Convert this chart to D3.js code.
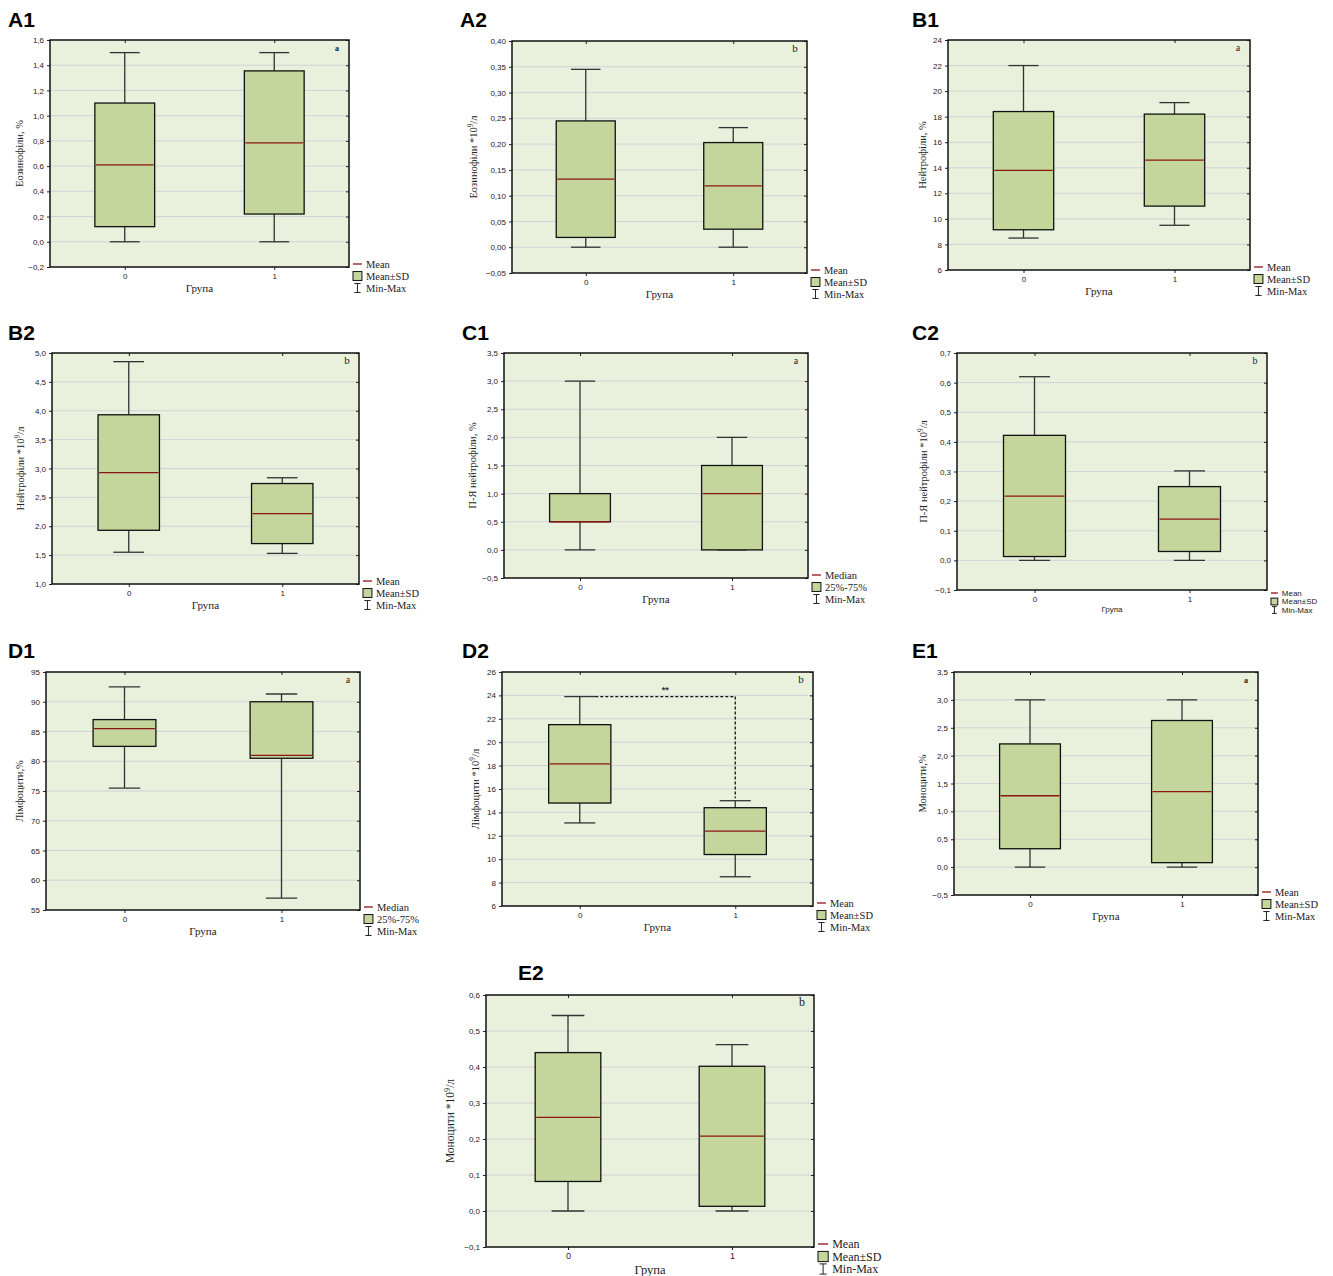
<!DOCTYPE html>
<html>
<head>
<meta charset="utf-8">
<script src="https://cdnjs.cloudflare.com/ajax/libs/d3/7.8.5/d3.min.js"></script>
<style>
  body { margin: 0; background: #fff; }
</style>
</head>
<body>
<svg id="chart" width="1333" height="1276"></svg>
<script>
// ---- data ----
const panelNames = ["A1", "A2", "B1", "B2", "C1", "C2", "D1", "D2", "E1", "E2"];
const groups = ["0", "1"];
const cornerMarks = ["a", "b", "a", "b", "a", "b", "a", "b", "a", "b"];
const yTitles = [
  "Еозинофіли, %", "Еозинофіли *10^9^/л",
  "Нейтрофіли, %", "Нейтрофіли *10^9^/л",
  "П-Я нейтрофіли, %", "П-Я нейтрофіли *10^9^/л",
  "Лімфоцити,%", "Лімфоцити *10^9^/л",
  "Моноцити,%", "Моноцити *10^9^/л"
];
const xTitle = "Група";
const statKinds = ["mean", "mean", "mean", "mean", "median", "mean", "median", "mean", "mean", "mean"];
const yDomains = [[-0.2, 1.6], [-0.05, 0.40], [6, 24], [1, 5], [-0.5, 3.5], [-0.1, 0.7], [55, 95], [6, 26], [-0.5, 3.5], [-0.1, 0.6]];
const yTickSteps = [0.2, 0.05, 2, 0.5, 0.5, 0.1, 5, 2, 0.5, 0.1];
const yTickDecimals = [1, 2, 0, 1, 1, 1, 0, 0, 1, 1];
// [min, lower box, centre line, upper box, max]
const group0Stats = [
  [0, 0.12, 0.61, 1.10, 1.5],
  [0, 0.019, 0.132, 0.245, 0.345],
  [8.5, 9.15, 13.8, 18.4, 22],
  [1.55, 1.93, 2.93, 3.93, 4.85],
  [0, 0.5, 0.5, 1.0, 3.0],
  [0, 0.013, 0.217, 0.422, 0.62],
  [75.5, 82.5, 85.5, 87, 92.5],
  [13.1, 14.8, 18.15, 21.5, 23.9],
  [0, 0.33, 1.28, 2.21, 3.0],
  [0, 0.082, 0.26, 0.44, 0.543]
];
const group1Stats = [
  [0, 0.22, 0.785, 1.355, 1.5],
  [0, 0.035, 0.119, 0.203, 0.232],
  [9.5, 11.0, 14.6, 18.2, 19.1],
  [1.53, 1.70, 2.22, 2.74, 2.84],
  [0, 0, 1.0, 1.5, 2.0],
  [0, 0.03, 0.139, 0.249, 0.302],
  [57, 80.5, 81, 90, 91.3],
  [8.5, 10.4, 12.4, 14.4, 15.0],
  [0, 0.08, 1.355, 2.63, 3.0],
  [0, 0.013, 0.208, 0.402, 0.462]
];
const legendTexts = {
  mean: ["Mean", "Mean±SD", "Min-Max"],
  median: ["Median", "25%-75%", "Min-Max"]
};
// significance bracket in D2
const sigPanel = "D2";
const sigStars = "**";
const sigTop = 23.9;
const sigBottom = 15.2;

// ---- layout (pixels) ----
const layout = [
  { rect: [50, 40, 349, 267], title: [8, 27], ylab: 31, corner: 8 },
  { rect: [512, 41, 807, 273], title: [460, 27], ylab: 39, corner: 11 },
  { rect: [948, 40, 1250, 270], title: [912, 27], ylab: 26, corner: 10 },
  { rect: [52, 353, 359, 584], title: [8, 340], ylab: 32, corner: 11 },
  { rect: [504, 353, 808, 578], title: [462, 340], ylab: 32, corner: 10 },
  { rect: [957, 353, 1267, 590], title: [912, 340], ylab: 34, corner: 10, small: true },
  { rect: [46, 672, 360, 910], title: [8, 658], ylab: 27, corner: 10 },
  { rect: [502, 672, 813, 906], title: [462, 658], ylab: 27, corner: 11 },
  { rect: [954, 672, 1258, 895], title: [912, 658], ylab: 32, corner: 8 },
  { rect: [486, 995, 814, 1247], title: [518, 980], ylab: 36, corner: 12, big: true }
];

const bgColor = "#e9f0dc";
const boxColor = "#c5d69d";
const lineColor = "#8b1414";
const gridColor = "#d3d3da";
const serif = "'Liberation Serif', 'Times New Roman', serif";
const sans = "'Liberation Sans', Arial, sans-serif";

const svg = d3.select("#chart");

panelNames.forEach((name, i) => {
  const L = layout[i];
  const [l, t, r, b] = L.rect;
  const w = r - l;
  const g = svg.append("g");

  const y = d3.scaleLinear().domain(yDomains[i]).range([b, t]);
  const x = d3.scalePoint().domain(groups).range([l, r]).padding(0.5);
  const step = yTickSteps[i];
  const ticks = d3.range(yDomains[i][0], yDomains[i][1] + step / 2, step);
  const fmt = v => d3.format("." + yTickDecimals[i] + "f")(Math.abs(v) < 1e-9 ? 0 : v).replace(".", ",");

  // panel title
  g.append("text").attr("x", L.title[0]).attr("y", L.title[1])
    .attr("font-family", sans).attr("font-weight", "bold").attr("font-size", 21)
    .text(name);

  // plot background
  g.append("rect").attr("x", l).attr("y", t).attr("width", w).attr("height", b - t)
    .attr("fill", bgColor);

  // grid
  g.selectAll(".grid").data(ticks.slice(1, -1)).join("line")
    .attr("x1", l).attr("x2", r)
    .attr("y1", d => y(d)).attr("y2", d => y(d))
    .attr("stroke", gridColor).attr("stroke-width", 1);

  // y axis left (labels) and inner right ticks
  const axL = g.append("g").attr("transform", `translate(${l},0)`)
    .call(d3.axisLeft(y).tickValues(ticks).tickFormat(fmt).tickSize(3).tickPadding(3));
  axL.select(".domain").remove();
  axL.selectAll("text").attr("font-family", sans).attr("font-size", 8).attr("fill", "#222");
  axL.selectAll("line").attr("stroke", "#222");
  const axR = g.append("g").attr("transform", `translate(${r},0)`)
    .call(d3.axisLeft(y).tickValues(ticks).tickFormat("").tickSize(3));
  axR.select(".domain").remove();
  axR.selectAll("line").attr("stroke", "#222");

  // x axis
  const axB = g.append("g").attr("transform", `translate(0,${b})`)
    .call(d3.axisBottom(x).tickSize(3).tickPadding(3));
  axB.select(".domain").remove();
  axB.selectAll("text").attr("font-family", sans).attr("font-size", L.big ? 9 : 8).attr("fill", "#222");
  axB.selectAll("line").attr("stroke", "#222");
  const axT = g.append("g").attr("transform", `translate(0,${t})`)
    .call(d3.axisBottom(x).tickSize(3).tickFormat(""));
  axT.select(".domain").remove();
  axT.selectAll("line").attr("stroke", "#222");

  // boxes
  const boxW = w * 0.2, capW = w * 0.1;
  const stats = [group0Stats[i], group1Stats[i]];
  stats.forEach((s, k) => {
    const cx = x(groups[k]);
    const bg = g.append("g");
    bg.append("line").attr("x1", cx).attr("x2", cx).attr("y1", y(s[4])).attr("y2", y(s[3]))
      .attr("stroke", "#333").attr("stroke-width", 1.3);
    bg.append("line").attr("x1", cx).attr("x2", cx).attr("y1", y(s[1])).attr("y2", y(s[0]))
      .attr("stroke", "#333").attr("stroke-width", 1.3);
    bg.append("line").attr("x1", cx - capW / 2).attr("x2", cx + capW / 2).attr("y1", y(s[4])).attr("y2", y(s[4]))
      .attr("stroke", "#333").attr("stroke-width", 1.3);
    bg.append("line").attr("x1", cx - capW / 2).attr("x2", cx + capW / 2).attr("y1", y(s[0])).attr("y2", y(s[0]))
      .attr("stroke", "#333").attr("stroke-width", 1.3);
    bg.append("rect").attr("x", cx - boxW / 2).attr("y", y(s[3]))
      .attr("width", boxW).attr("height", Math.max(0, y(s[1]) - y(s[3])))
      .attr("fill", boxColor).attr("stroke", "#111").attr("stroke-width", 1.3);
    bg.append("line").attr("x1", cx - boxW / 2 + 1).attr("x2", cx + boxW / 2 - 1).attr("y1", y(s[2])).attr("y2", y(s[2]))
      .attr("stroke", lineColor).attr("stroke-width", 1.3);
  });

  // significance bracket
  if (name === sigPanel) {
    const x0 = x(groups[0]) + capW / 2, x1 = x(groups[1]);
    g.append("path")
      .attr("d", `M${x0},${y(sigTop)}H${x1}V${y(sigBottom)}`)
      .attr("fill", "none").attr("stroke", "#111").attr("stroke-width", 1.3)
      .attr("stroke-dasharray", "3,2");
    g.append("text").attr("x", (x0 + x1) / 2).attr("y", y(sigTop) - 4)
      .attr("text-anchor", "middle").attr("font-family", sans).attr("font-size", 9)
      .attr("font-weight", "bold").attr("fill", "#333").text(sigStars);
  }

  // frame
  g.append("rect").attr("x", l).attr("y", t).attr("width", w).attr("height", b - t)
    .attr("fill", "none").attr("stroke", "#111").attr("stroke-width", 1.5);

  // corner letter
  g.append("text").attr("x", r - 12).attr("y", t + 11)
    .attr("text-anchor", "middle").attr("font-family", serif).attr("font-size", L.corner)
    .attr("font-weight", L.corner < 10 ? "bold" : "normal").attr("fill", "#222")
    .text(cornerMarks[i]);

  // y title with superscript (text between ^ marks is raised)
  const fs = L.big ? 11.5 : 10.5;
  const parts = yTitles[i].split("^");
  const yt = g.append("text")
    .attr("transform", `translate(${l - L.ylab},${(t + b) / 2}) rotate(-90)`)
    .attr("text-anchor", "middle").attr("dy", "0.35em")
    .attr("font-family", serif).attr("font-size", fs).attr("fill", "#222");
  yt.append("tspan").attr("font-size", fs).text(parts[0]);
  if (parts.length > 2) {
    yt.append("tspan").attr("dy", -4).attr("font-size", fs * 0.7).text(parts[1]);
    yt.append("tspan").attr("dy", 4).attr("font-size", fs).text(parts[2]);
  }

  // x title
  g.append("text").attr("x", (l + r) / 2)
    .attr("y", b + (L.small ? 22 : L.big ? 27 : 25))
    .attr("text-anchor", "middle")
    .attr("font-family", L.small ? sans : serif)
    .attr("font-size", L.small ? 8 : L.big ? 12.5 : 11).attr("fill", "#222")
    .text(xTitle);

  // legend
  const lf = L.small ? 8 : L.big ? 12 : 10.5;
  const ls = L.small ? 8.5 : L.big ? 12.5 : 12;
  const ly0 = b + (L.small ? 3 : -3);
  const ic = lf * 0.85;
  const lg = g.append("g");
  const labels = legendTexts[statKinds[i]];
  labels.forEach((txt, k) => {
    const cy = ly0 + k * ls;
    if (k === 0) {
      lg.append("line").attr("x1", r + 4).attr("x2", r + 4 + ic).attr("y1", cy).attr("y2", cy)
        .attr("stroke", lineColor).attr("stroke-width", 1.3);
    } else if (k === 1) {
      lg.append("rect").attr("x", r + 4).attr("y", cy - ic / 2).attr("width", ic).attr("height", ic)
        .attr("fill", boxColor).attr("stroke", "#111").attr("stroke-width", 1);
    } else {
      const mx = r + 4 + ic / 2;
      lg.append("path")
        .attr("d", `M${mx - ic * 0.35},${cy - ic / 2}H${mx + ic * 0.35}M${mx},${cy - ic / 2}V${cy + ic / 2}M${mx - ic * 0.35},${cy + ic / 2}H${mx + ic * 0.35}`)
        .attr("stroke", "#222").attr("stroke-width", 1).attr("fill", "none");
    }
    lg.append("text").attr("x", r + 8 + ic).attr("y", cy).attr("dy", "0.35em")
      .attr("font-family", L.small ? sans : serif).attr("font-size", lf).attr("fill", "#222")
      .text(txt);
  });
});
</script>
</body>
</html>
